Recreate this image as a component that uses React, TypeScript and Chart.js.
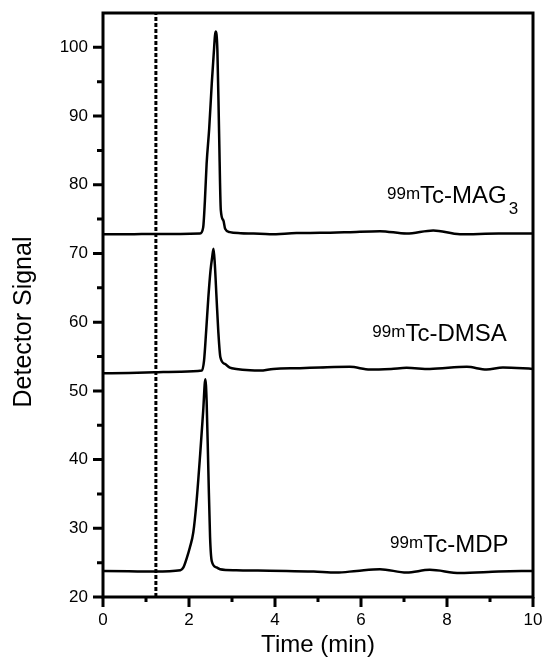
import React, { useEffect, useRef } from "react";
import { Chart, registerables } from "chart.js";

Chart.register(...registerables);

// ---- data (time in min, detector signal) ----
const mag3Time = [0, 0.6, 1.2, 1.8, 2.256, 2.33, 2.37, 2.41, 2.47, 2.53, 2.57, 2.62, 2.66, 2.7, 2.74, 2.8, 2.84, 2.95, 3.2, 3.5, 3.88, 4.5, 5.05, 5.7, 6.44, 7.06, 7.68, 8.3, 9.2, 10];
const mag3Signal = [72.8, 72.8, 72.85, 72.85, 72.9, 73.8, 77.7, 83.1, 88.2, 94.8, 98.6, 102.3, 99.6, 87.5, 76.3, 74.8, 73.6, 73.1, 72.95, 72.9, 72.8, 72.97, 73.0, 73.1, 73.25, 72.9, 73.35, 72.8, 72.9, 72.9];

const dmsaTime = [0, 0.6, 1.2, 1.8, 2.3, 2.35, 2.4, 2.45, 2.5, 2.54, 2.57, 2.6, 2.64, 2.68, 2.73, 2.84, 2.95, 3.1, 3.42, 3.65, 3.96, 4.58, 5.05, 5.74, 6.21, 6.7, 7.06, 7.6, 8.46, 8.92, 9.3, 10];
const dmsaSignal = [52.55, 52.6, 52.7, 52.8, 52.96, 54.4, 58.8, 63.6, 67.5, 69.5, 70.7, 68.5, 63.6, 58.8, 54.9, 53.9, 53.4, 53.2, 53.0, 52.96, 53.2, 53.3, 53.4, 53.5, 53.1, 53.2, 53.35, 53.2, 53.5, 53.1, 53.4, 53.2];

const mdpTime = [0, 0.6, 1.2, 1.8, 1.87, 1.95, 2.02, 2.1, 2.17, 2.26, 2.33, 2.38, 2.41, 2.45, 2.49, 2.53, 2.64, 2.72, 3.1, 3.6, 4.27, 4.9, 5.43, 5.9, 6.44, 7.06, 7.6, 8.3, 9.2, 10];
const mdpSignal = [23.8, 23.75, 23.7, 23.9, 24.3, 25.7, 27.2, 29.4, 33.5, 40.8, 47.1, 51.7, 48.5, 38.4, 28.7, 25.2, 24.3, 24.05, 23.9, 23.85, 23.8, 23.7, 23.55, 23.8, 24.05, 23.55, 23.95, 23.5, 23.7, 23.8];

const markerTime = 1.23;

const xMajorTicks = [0, 2, 4, 6, 8, 10];
const xMinorTicks = [1, 3, 5, 7, 9];
const yMajorTicks = [20, 30, 40, 50, 60, 70, 80, 90, 100];
const yMinorTicks = [25, 35, 45, 55, 65, 75, 85, 95];

const xTitle = "Time (min)";
const yTitle = "Detector Signal";

const curveLabels = [
  { sup: "99m", main: "Tc-MAG", sub: "3", time: 9.39, value: 77.3 },
  { sup: "99m", main: "Tc-DMSA", sub: "", time: 9.39, value: 57.3 },
  { sup: "99m", main: "Tc-MDP", sub: "", time: 9.43, value: 26.5 },
];

const FONT = '"Liberation Sans", Arial, Helvetica, sans-serif';

const toPoints = (t: number[], s: number[]) => t.map((v, i) => ({ x: v, y: s[i] }));

const decorPlugin = {
  id: "decor",
  afterDatasetsDraw(chart: any) {
    const { ctx, chartArea: a, scales } = chart;
    const xs = scales.x;
    const ys = scales.y;
    ctx.save();
    ctx.strokeStyle = "#000";
    ctx.fillStyle = "#000";
    ctx.lineWidth = 3;
    ctx.strokeRect(a.left, a.top, a.right - a.left, a.bottom - a.top);
    ctx.beginPath();
    for (const v of yMajorTicks) {
      const py = ys.getPixelForValue(v);
      ctx.moveTo(a.left - 10, py);
      ctx.lineTo(a.left, py);
    }
    for (const v of yMinorTicks) {
      const py = ys.getPixelForValue(v);
      ctx.moveTo(a.left - 6, py);
      ctx.lineTo(a.left, py);
    }
    for (const v of xMajorTicks) {
      const px = xs.getPixelForValue(v);
      ctx.moveTo(px, a.bottom);
      ctx.lineTo(px, a.bottom + 10);
    }
    for (const v of xMinorTicks) {
      const px = xs.getPixelForValue(v);
      ctx.moveTo(px, a.bottom);
      ctx.lineTo(px, a.bottom + 5);
    }
    ctx.stroke();

    // curve labels
    ctx.textBaseline = "alphabetic";
    ctx.textAlign = "left";
    for (const L of curveLabels) {
      const rx = xs.getPixelForValue(L.time);
      const by = ys.getPixelForValue(L.value);
      ctx.font = `24px ${FONT}`;
      const mw = ctx.measureText(L.main).width;
      const left = rx - mw;
      ctx.fillText(L.main, left, by);
      ctx.font = `17px ${FONT}`;
      const sw = ctx.measureText(L.sup).width;
      ctx.fillText(L.sup, left - sw, by - 4);
      if (L.sub) ctx.fillText(L.sub, rx + 2, by + 11);
    }

    // axis titles
    ctx.font = `24px ${FONT}`;
    ctx.textAlign = "center";
    ctx.textBaseline = "alphabetic";
    ctx.fillText(xTitle, (a.left + a.right) / 2, 652);
    ctx.save();
    ctx.font = `25px ${FONT}`;
    ctx.translate(31, 322);
    ctx.rotate(-Math.PI / 2);
    ctx.fillText(yTitle, 0, 0);
    ctx.restore();
    ctx.restore();
  },
};

export default function App() {
  const ref = useRef<HTMLCanvasElement | null>(null);
  useEffect(() => {
    if (!ref.current) return;
    const chart = new Chart(ref.current, {
      type: "line",
      data: {
        datasets: [
          { data: toPoints(mag3Time, mag3Signal), borderColor: "#000", borderWidth: 2.5, pointRadius: 0, cubicInterpolationMode: "monotone" },
          { data: toPoints(dmsaTime, dmsaSignal), borderColor: "#000", borderWidth: 2.5, pointRadius: 0, cubicInterpolationMode: "monotone" },
          { data: toPoints(mdpTime, mdpSignal), borderColor: "#000", borderWidth: 2.5, pointRadius: 0, cubicInterpolationMode: "monotone" },
          { data: [{ x: markerTime, y: 20 }, { x: markerTime, y: 105 }], borderColor: "#000", borderWidth: 3, borderDash: [4, 2], pointRadius: 0 },
        ],
      } as any,
      options: {
        responsive: false,
        animation: false,
        events: [],
        layout: { padding: { top: 13, right: 11, left: 0, bottom: 0 } },
        plugins: { legend: { display: false }, tooltip: { enabled: false }, title: { display: false } },
        scales: {
          x: {
            type: "linear",
            min: 0,
            max: 10,
            grid: { display: false },
            border: { display: false },
            afterBuildTicks: (s: any) => { s.ticks = xMajorTicks.map((v) => ({ value: v })); },
            afterFit: (s: any) => { s.height = 62; s.paddingLeft = 0; s.paddingRight = 0; s.paddingTop = 0; s.paddingBottom = 0; },
            ticks: { color: "#000", font: { family: FONT, size: 17 }, padding: 5, maxRotation: 0 },
          },
          y: {
            type: "linear",
            min: 20,
            max: 105,
            grid: { display: false },
            border: { display: false },
            afterBuildTicks: (s: any) => { s.ticks = yMajorTicks.map((v) => ({ value: v })); },
            afterFit: (s: any) => { s.width = 103; s.paddingLeft = 0; s.paddingRight = 0; s.paddingTop = 0; s.paddingBottom = 0; },
            ticks: { color: "#000", font: { family: FONT, size: 17 }, padding: 7 },
          },
        },
      } as any,
      plugins: [decorPlugin],
    });
    return () => chart.destroy();
  }, []);
  return (
    <div style={{ position: "absolute", left: 0, top: 0, width: 544, height: 659, background: "#fff" }}>
      <canvas ref={ref} width={544} height={659} />
    </div>
  );
}
